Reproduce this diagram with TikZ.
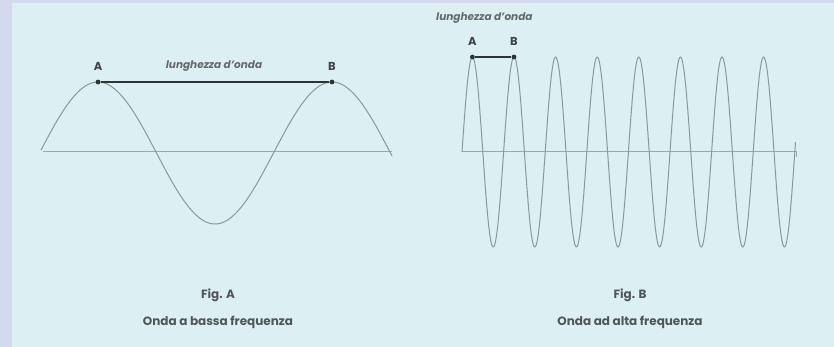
\documentclass[tikz,border=0pt]{standalone}
\usepackage{fontspec}
\setmainfont{Poppins}
\definecolor{bgc}{HTML}{DCEFF2}
\definecolor{framec}{HTML}{D3DAEE}
\definecolor{wavec}{HTML}{8A999B}
\definecolor{inkc}{HTML}{2E3436}
\definecolor{textc}{HTML}{3E4446}
\tikzset{
  wave/.style={draw=wavec, line width=1pt},
  axisline/.style={draw=wavec!85!white, line width=1pt},
  dotpt/.style={circle, fill=inkc, inner sep=0pt, minimum size=4.8pt},
  span/.style={draw=inkc, line width=1.3pt},
  ptlabel/.style={font=\fontsize{11.5}{13}\selectfont\bfseries, text=textc, inner sep=0pt},
  lenlabel/.style={font=\fontsize{10.5}{12}\selectfont\bfseries\itshape, text=textc!80!white, inner sep=0pt},
  caption/.style={font=\fontsize{12}{14}\selectfont\bfseries, text=textc!90!white, inner sep=0pt}
}
\begin{document}
\begin{tikzpicture}[x=1pt,y=-1pt]
\useasboundingbox (0,0) rectangle (834,347);
\fill[framec] (0,0) rectangle (834,347);
\fill[bgc] (11.5,3.5) rectangle (834,347);
% ---- Fig. A: low frequency
\draw[axisline] (43,152) -- (392,152);
\draw[wave] plot[domain=41:392, samples=240, smooth] (\x,{153-71*cos((\x-98)*1.538462)});
\node[dotpt] (A1) at (98,82) {};
\node[dotpt] (B1) at (332,82) {};
\draw[span] (A1) -- (B1);
\node[ptlabel] (lA1) at (98,66) {A};
\node[ptlabel] (lB1) at (332,66) {B};
\node[lenlabel] (len1) at (214,66) {lunghezza d'onda};
\node[caption] (figA) at (218,295) {Fig. A};
\node[caption] (capA) at (218,322) {Onda a bassa frequenza};
% ---- Fig. B: high frequency
\draw[axisline] (462,152) -- (796,152) -- (796,157);
\draw[wave] plot[domain=462:795.5, samples=900] (\x,{152-95*sin((\x-462)*8.653846)});
\node[dotpt] (A2) at (472.4,57) {};
\node[dotpt] (B2) at (514,57) {};
\draw[span] (A2) -- (B2);
\node[ptlabel] (lA2) at (472.4,41) {A};
\node[ptlabel] (lB2) at (514,41) {B};
\node[lenlabel, anchor=west] (len2) at (436,18) {lunghezza d'onda};
\node[caption] (figB) at (630,295) {Fig. B};
\node[caption] (capB) at (630,322) {Onda ad alta frequenza};
\end{tikzpicture}
\end{document}
